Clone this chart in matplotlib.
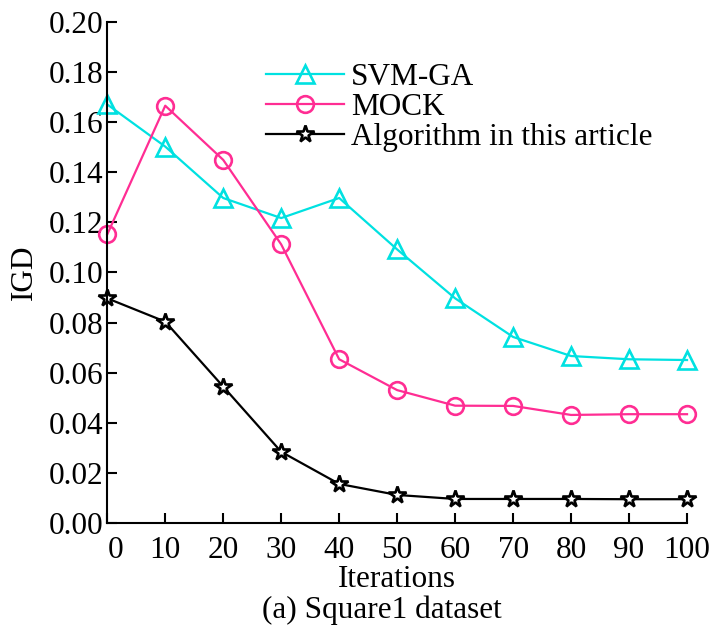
import matplotlib
matplotlib.use('Agg')
import matplotlib.pyplot as plt
from matplotlib.transforms import ScaledTranslation

plt.rcParams['font.family'] = ['Liberation Serif', 'DejaVu Serif']

# Data
iterations = [0, 10, 20, 30, 40, 50, 60, 70, 80, 90, 100]
svm_ga = [0.167, 0.1502, 0.1297, 0.1217, 0.1297, 0.1092, 0.0897, 0.0743, 0.0667, 0.0654, 0.0651]
mock = [0.1152, 0.1665, 0.1449, 0.1112, 0.0654, 0.0531, 0.0469, 0.0468, 0.0432, 0.0435, 0.0435]
ours = [0.0897, 0.0804, 0.0545, 0.0285, 0.0157, 0.0113, 0.0097, 0.0097, 0.0097, 0.0096, 0.0096]

y_ticks = [0.00, 0.02, 0.04, 0.06, 0.08, 0.10, 0.12, 0.14, 0.16, 0.18, 0.20]

cyan = '#00E1E1'
pink = '#FF2D93'
fs = 22.5

fig = plt.figure(figsize=(7.09, 6.27), dpi=100)
ax = fig.add_axes([0.1513, 0.1654, 0.8177, 0.8000])

ax.plot(iterations, svm_ga, color=cyan, lw=1.6, marker='^', ms=12.5,
        mfc='none', mec=cyan, mew=1.9, label='SVM-GA', clip_on=False)
ax.plot(iterations, mock, color=pink, lw=1.6, marker='o', ms=12,
        mfc='none', mec=pink, mew=1.9, label='MOCK', clip_on=False)
ax.plot(iterations, ours, color='black', lw=1.6, marker='*', ms=13,
        mfc='white', mec='black', mew=1.9, label='Algorithm in this article',
        clip_on=False)

ax.set_xlim(0, 100)
ax.set_ylim(0, 0.20)
ax.set_xticks(iterations)
ax.set_yticks(y_ticks)
ax.set_yticklabels(['%.2f' % v for v in y_ticks])

for s in ['top', 'right']:
    ax.spines[s].set_visible(False)
for s in ['left', 'bottom']:
    ax.spines[s].set_linewidth(1.5)

ax.tick_params(direction='in', length=7, width=1.5, labelsize=fs)
ax.tick_params(axis='x', pad=9.5)
ax.tick_params(axis='y', pad=3)

# the "0" label sits a bit right of its tick in the original
first = ax.get_xticklabels()[0]
first.set_transform(first.get_transform() + ScaledTranslation(8 / 100, 0, fig.dpi_scale_trans))

ax.set_xlabel('Iterations', fontsize=fs, va='baseline')
ax.xaxis.set_label_coords(0.5, -0.1264)
ax.set_ylabel('IGD', fontsize=fs, labelpad=7)

fig.text(382 / 709, 0.014, '(a) Square1 dataset', fontsize=fs, ha='center', va='baseline')

ax.legend(loc='upper left', bbox_to_anchor=(0.375, 0.899), bbox_transform=fig.transFigure,
          frameon=False, fontsize=fs, handlelength=2.5, handletextpad=0.22,
          labelspacing=0.02, borderpad=0, borderaxespad=0)

fig.savefig('out.png', dpi=100)
